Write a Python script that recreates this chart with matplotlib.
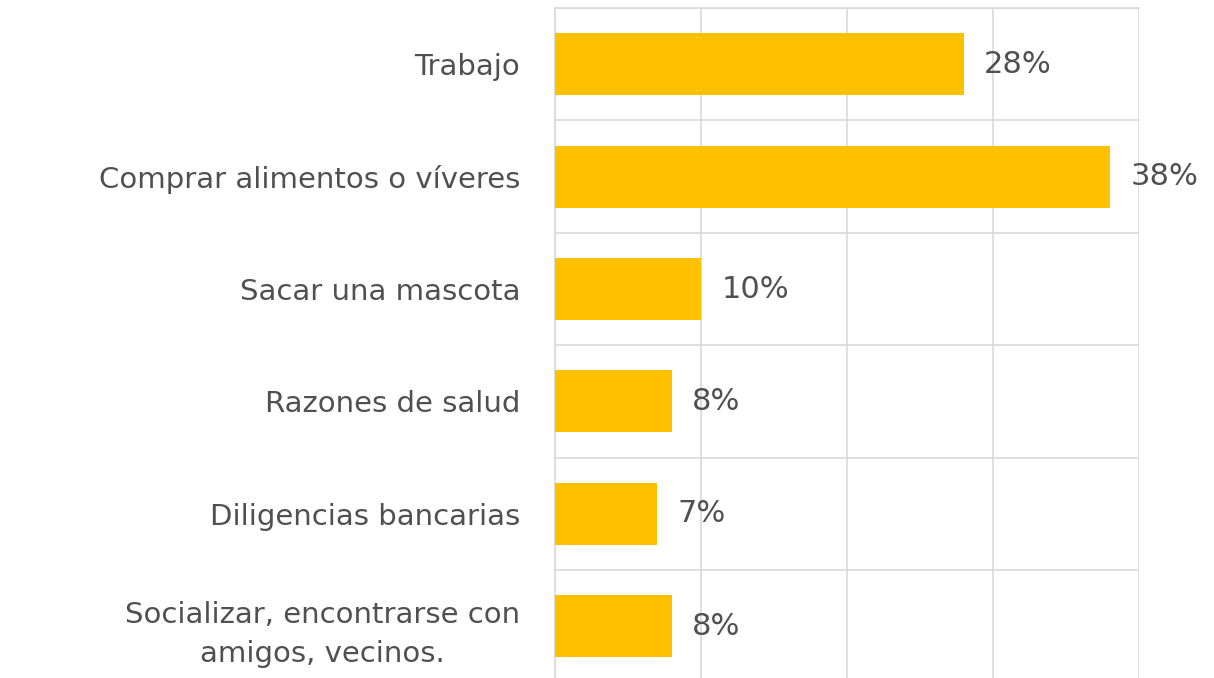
import matplotlib.pyplot as plt
import numpy as np

categories = ["Trabajo", "Comprar alimentos o víveres", "Sacar una mascota",
              "Razones de salud", "Diligencias bancarias",
              "Socializar, encontrarse con\namigos, vecinos."]
values = [28, 38, 10, 8, 7, 8]
labels = ["28%", "38%", "10%", "8%", "7%", "8%"]

plt.rcParams['font.family'] = ['DejaVu Sans']
text_color = "#505050"
grid_color = "#d9d9d9"

fig = plt.figure(figsize=(12.14, 6.78), dpi=100)
ax = fig.add_axes([0.4572, -0.0065, 0.481, 0.9947])

y = np.arange(len(categories))
ax.barh(y, values, height=0.55, color="#ffc000", zorder=3)
ax.set_ylim(len(categories) - 0.5, -0.5)
ax.set_xlim(0, 40)

ax.set_xticks([0, 10, 20, 30, 40])
ax.set_xticklabels([])
ax.tick_params(axis='x', length=0)
ax.set_yticks(y)
ax.set_yticklabels(categories, fontsize=21, color=text_color, linespacing=1.5,
                   multialignment='center')
ax.tick_params(axis='y', length=0, pad=25)
ax.set_yticks(np.arange(len(categories) + 1) - 0.5, minor=True)
ax.tick_params(axis='y', which='minor', length=0)

ax.grid(axis='x', which='major', color=grid_color, linewidth=1.2, zorder=0)
ax.grid(axis='y', which='minor', color=grid_color, linewidth=1.2, zorder=0)
for side in ['left', 'top']:
    ax.spines[side].set_color(grid_color)
    ax.spines[side].set_linewidth(1.2)
for side in ['right', 'bottom']:
    ax.spines[side].set_visible(False)

for yi, v, lab in zip(y, values, labels):
    ax.text(v + 1.4, yi, lab, va='center', ha='left', fontsize=22, color=text_color)

fig.savefig("out.png", dpi=100)
